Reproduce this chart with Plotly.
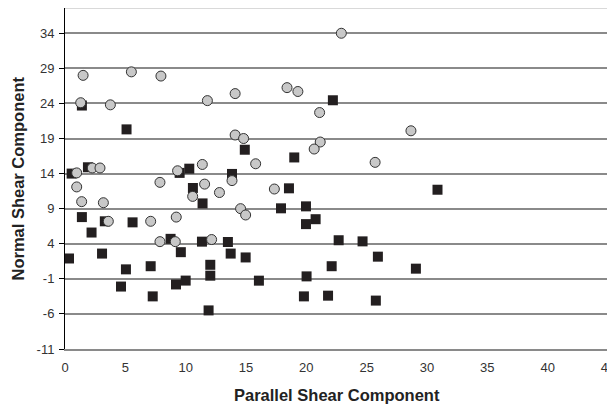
import plotly.graph_objects as go

# Series 1: dark squares
sq_x = [1.4, 5.1, 0.55, 1.9, 9.5, 10.3, 10.6, 11.4, 1.4, 3.3, 5.6, 2.2, 8.75, 11.35, 0.33, 3.07,
        9.6, 12.04, 5.05, 7.1, 12.04, 4.64, 9.2, 10.0, 7.27, 11.9, 22.2, 14.9, 19.0, 13.84, 18.56,
        17.9, 19.97, 20.77, 19.97, 13.5, 22.68, 24.66, 13.73, 14.97, 22.1, 16.07, 20.02, 19.8,
        21.8, 30.87, 25.93, 29.08, 25.76]
sq_y = [23.7, 20.3, 14.0, 14.9, 14.1, 14.7, 11.95, 9.75, 7.8, 7.2, 7.05, 5.6, 4.7, 4.3, 1.9, 2.6,
        2.8, 1.0, 0.35, 0.8, -0.55, -2.1, -1.8, -1.25, -3.5, -5.5, 24.45, 17.4, 16.3, 13.95, 11.9,
        9.05, 9.33, 7.5, 6.8, 4.25, 4.5, 4.34, 2.6, 2.05, 0.8, -1.26, -0.65, -3.5,
        -3.4, 11.7, 2.16, 0.45, -4.1]

# Series 2: gray circles
ci_x = [1.5, 5.5, 7.95, 1.3, 3.76, 11.8, 0.97, 2.26, 2.9, 9.33, 11.38, 0.97, 7.87, 11.57, 1.38,
        3.18, 10.58, 3.59, 7.1, 9.22, 7.87, 9.14, 12.15, 22.9, 14.1, 18.4, 19.3, 21.1, 14.1, 14.8,
        21.15, 20.65, 15.8, 13.84, 12.8, 17.35, 14.55, 14.97, 28.67, 25.7]
ci_y = [28.0, 28.5, 27.9, 24.1, 23.8, 24.4, 14.1, 14.8, 14.8, 14.4, 15.3, 12.1, 12.75, 12.5, 10.0,
        9.85, 10.75, 7.2, 7.2, 7.8, 4.3, 4.3, 4.6, 34.0, 25.4, 26.25, 25.7, 22.7, 19.5, 19.0,
        18.5, 17.5, 15.4, 13.0, 11.3, 11.8, 9.0, 8.1, 20.1, 15.6]

x_ticks = [0, 5, 10, 15, 20, 25, 30, 35, 40, 45]
y_ticks = [34, 29, 24, 19, 14, 9, 4, -1, -6, -11]

fig = go.Figure()
fig.add_trace(go.Scatter(x=sq_x, y=sq_y, mode="markers",
                         marker=dict(symbol="square", size=10, color="#231f20",
                                     line=dict(width=0)), showlegend=False))
fig.add_trace(go.Scatter(x=ci_x, y=ci_y, mode="markers",
                         marker=dict(symbol="circle", size=10, color="#c8c8c8",
                                     line=dict(width=1, color="#333333")), showlegend=False))

fig.add_shape(type="line", xref="paper", yref="paper", x0=1, x1=1, y0=0, y1=1,
              line=dict(color="#999999", width=1.5))
fig.add_shape(type="line", xref="paper", yref="paper", x0=0, x1=1, y0=1, y1=1,
              line=dict(color="#cccccc", width=1.5))

fig.add_annotation(text="<b>Parallel Shear Component</b>", xref="paper", yref="paper",
                   x=0.5, y=0, yshift=-46, xanchor="center", yanchor="middle", showarrow=False,
                   font=dict(size=16.5, color="#222222"))
fig.add_annotation(text="<b>Normal Shear Component</b>", xref="paper", yref="paper",
                   x=0, y=0.5, xshift=-48, xanchor="center", yanchor="middle", showarrow=False,
                   textangle=-90, font=dict(size=16.5, color="#222222"))

fig.update_layout(
    width=607, height=397,
    margin=dict(l=57, r=7, t=0, b=56),
    paper_bgcolor="white", plot_bgcolor="white",
    font=dict(family="Liberation Sans, Arial, sans-serif", size=13, color="#333333"),
    xaxis=dict(range=[0, 45], tickvals=x_ticks, ticktext=[str(v) for v in x_ticks],
               showgrid=False, zeroline=False, showline=True, linecolor="#8a8a8a", linewidth=1.5,
               ticks="", ticklabelstandoff=6, ticklabeloverflow="allow",
               tickfont=dict(size=13, color="#333333"), automargin=False),
    yaxis=dict(range=[-11, 37.6], tickvals=y_ticks, ticktext=[str(v) for v in y_ticks],
               showgrid=True, gridcolor="#8a8a8a", gridwidth=1.5, zeroline=False,
               showline=True, linecolor="black", linewidth=1,
               ticks="outside", ticklen=5, tickcolor="black", ticklabelstandoff=2,
               tickfont=dict(size=13, color="#333333"), automargin=False),
)

fig.write_html("out.html")
